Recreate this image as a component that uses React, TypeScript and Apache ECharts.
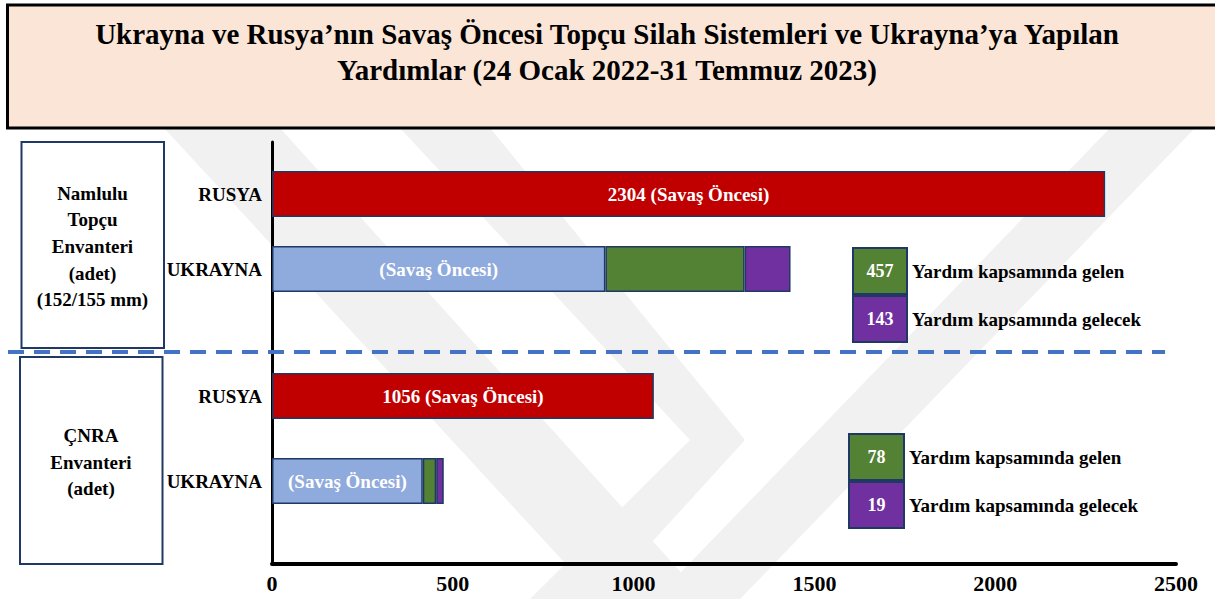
import React, { useEffect, useRef } from 'react';
import * as echarts from 'echarts';

const categories = ['RUSYA', 'UKRAYNA'];
const artilleryPreWar = [2304, 922];
const artilleryDelivered = [null, 385];
const artilleryPledged = [null, 127];
const mlrsPreWar = [1056, 417];
const mlrsDelivered = [null, 37];
const mlrsPledged = [null, 21];
const artilleryAidLabels = ['457', '143'];
const mlrsAidLabels = ['78', '19'];
const aidLegendNames = ['Yardım kapsamında gelen', 'Yardım kapsamında gelecek'];
const preWarLabel = '(Savaş Öncesi)';
const xMin = 0;
const xMax = 2500;
const xInterval = 500;
const titleLines = [
  'Ukrayna ve Rusya’nın Savaş Öncesi Topçu Silah Sistemleri ve Ukrayna’ya Yapılan',
  'Yardımlar (24 Ocak 2022-31 Temmuz 2023)',
];
const groupLabels = [
  ['Namlulu', 'Topçu', 'Envanteri', '(adet)', '(152/155 mm)'],
  ['ÇNRA', 'Envanteri', '(adet)'],
];

const FONT = "'Liberation Serif', 'Times New Roman', serif";
const RED = '#c00000';
const BLUE = '#8faadc';
const GREEN = '#548235';
const PURPLE = '#7030a0';
const NAVY = '#1f3864';
const WM = '#f2f1f2';

function buildSeries(idx: number, pre: number[], del: (number | null)[], pled: (number | null)[]) {
  const common = {
    type: 'bar',
    xAxisIndex: idx,
    yAxisIndex: idx,
    stack: 'g' + idx,
    barWidth: 46,
    z: 5,
  };
  return [
    {
      ...common,
      name: 'Savaş Öncesi',
      data: pre.map((v, i) => ({ value: v, itemStyle: { color: i === 0 ? RED : BLUE } })),
      itemStyle: { borderColor: NAVY, borderWidth: 1.5 },
      label: {
        show: true,
        position: 'inside',
        color: '#ffffff',
        fontFamily: FONT,
        fontWeight: 'bold',
        fontSize: 19,
        formatter: (p: any) => (p.dataIndex === 0 ? `${p.value} ${preWarLabel}` : preWarLabel),
      },
    },
    {
      ...common,
      name: aidLegendNames[0],
      data: del,
      itemStyle: { color: GREEN, borderColor: NAVY, borderWidth: 1.5 },
    },
    {
      ...common,
      name: aidLegendNames[1],
      data: pled,
      itemStyle: { color: PURPLE, borderColor: NAVY, borderWidth: 1.5 },
    },
  ];
}

function legendBlock(x: number, y: number, w: number, h: number, labels: string[]) {
  const els: any[] = [];
  const colors = [GREEN, PURPLE];
  labels.forEach((lab, i) => {
    const top = y + i * (h + 2);
    els.push({
      type: 'rect',
      z: 50,
      shape: { x, y: top, width: w, height: h },
      style: { fill: colors[i], stroke: NAVY, lineWidth: 2 },
    });
    els.push({
      type: 'text',
      z: 51,
      x: x + w / 2,
      y: top + h / 2,
      style: {
        text: lab,
        fill: '#ffffff',
        fontFamily: FONT,
        fontWeight: 'bold',
        fontSize: 18,
        textAlign: 'center',
        align: 'center',
        textVerticalAlign: 'middle',
        verticalAlign: 'middle',
      },
    });
    els.push({
      type: 'text',
      z: 51,
      x: x + w + 5,
      y: top + h / 2,
      style: {
        text: aidLegendNames[i],
        fill: '#000000',
        fontFamily: FONT,
        fontWeight: 'bold',
        fontSize: 19,
        textAlign: 'left',
        align: 'left',
        textVerticalAlign: 'middle',
        verticalAlign: 'middle',
      },
    });
  });
  return els;
}

export default function App() {
  const ref = useRef<HTMLDivElement>(null);

  useEffect(() => {
    if (!ref.current) return;
    const chart = echarts.init(ref.current, null, { renderer: 'svg' });

    const catAxis = (idx: number) => ({
      type: 'category',
      gridIndex: idx,
      data: categories,
      inverse: true,
      axisLine: { show: false },
      axisTick: { show: false },
      axisLabel: {
        margin: 10,
        color: '#000000',
        fontFamily: FONT,
        fontWeight: 'bold',
        fontSize: 19,
      },
    });

    const hiddenX = (idx: number) => ({
      type: 'value',
      gridIndex: idx,
      min: xMin,
      max: xMax,
      interval: xInterval,
      show: false,
    });

    const graphic: any[] = [
      // watermark
      { type: 'polygon', z: -10, shape: { points: [[164, 128], [280, 128], [705, 599], [598, 599]] }, style: { fill: WM } },
      { type: 'polygon', z: -10, shape: { points: [[1110, 128], [1195, 128], [740, 599], [655, 599]] }, style: { fill: WM } },
      { type: 'polygon', z: -10, shape: { points: [[400, 128], [490, 128], [745, 440], [600, 599], [530, 599], [690, 440]] }, style: { fill: WM } },
      // title box
      {
        type: 'rect',
        z: 40,
        shape: { x: 7.5, y: 5, width: 1215, height: 123 },
        style: { fill: '#fbe5d6', stroke: '#000000', lineWidth: 3 },
      },
      {
        type: 'text',
        z: 41,
        x: 607,
        y: 52,
        style: {
          text: titleLines.join('\n'),
          fill: '#000000',
          fontFamily: FONT,
          fontWeight: 'bold',
          fontSize: 29,
          lineHeight: 36,
          textAlign: 'center',
          align: 'center',
          textVerticalAlign: 'middle',
          verticalAlign: 'middle',
        },
      },
      // left group boxes
      {
        type: 'rect',
        z: 40,
        shape: { x: 21.5, y: 142, width: 142.5, height: 206 },
        style: { fill: '#ffffff', stroke: NAVY, lineWidth: 2 },
      },
      {
        type: 'text',
        z: 41,
        x: 92.5,
        y: 246.5,
        style: {
          text: groupLabels[0].join('\n'),
          fill: '#000000',
          fontFamily: FONT,
          fontWeight: 'bold',
          fontSize: 19,
          lineHeight: 26.7,
          textAlign: 'center',
          align: 'center',
          textVerticalAlign: 'middle',
          verticalAlign: 'middle',
        },
      },
      {
        type: 'rect',
        z: 40,
        shape: { x: 20, y: 357, width: 142.5, height: 207 },
        style: { fill: '#ffffff', stroke: NAVY, lineWidth: 2 },
      },
      {
        type: 'text',
        z: 41,
        x: 91,
        y: 462,
        style: {
          text: groupLabels[1].join('\n'),
          fill: '#000000',
          fontFamily: FONT,
          fontWeight: 'bold',
          fontSize: 19,
          lineHeight: 26.7,
          textAlign: 'center',
          align: 'center',
          textVerticalAlign: 'middle',
          verticalAlign: 'middle',
        },
      },
      // dashed separator
      {
        type: 'line',
        z: 30,
        shape: { x1: 8, y1: 352, x2: 1165, y2: 352 },
        style: { stroke: '#4472c4', lineWidth: 4, lineDash: [16, 10] },
      },
      ...legendBlock(853, 248, 54, 46, artilleryAidLabels),
      ...legendBlock(849, 434, 55, 46, mlrsAidLabels),
    ];

    chart.setOption({
      animation: false,
      backgroundColor: '#ffffff',
      grid: [
        { left: 272, right: 39, top: 156.5, height: 150 },
        { left: 272, right: 39, top: 353.5, height: 170 },
        { left: 272, right: 39, top: 142, bottom: 35 },
      ],
      xAxis: [
        hiddenX(0),
        hiddenX(1),
        {
          type: 'value',
          gridIndex: 2,
          min: xMin,
          max: xMax,
          interval: xInterval,
          splitLine: { show: false },
          axisTick: { show: false },
          axisLine: { show: true, lineStyle: { color: '#000000', width: 4 } },
          axisLabel: {
            margin: 8,
            color: '#000000',
            fontFamily: FONT,
            fontWeight: 'bold',
            fontSize: 22,
            formatter: (v: number) => String(v),
          },
        },
      ],
      yAxis: [
        catAxis(0),
        catAxis(1),
        {
          type: 'category',
          gridIndex: 2,
          data: [''],
          axisTick: { show: false },
          axisLabel: { show: false },
          axisLine: { show: true, lineStyle: { color: '#000000', width: 3 } },
        },
      ],
      series: [
        ...buildSeries(0, artilleryPreWar, artilleryDelivered, artilleryPledged),
        ...buildSeries(1, mlrsPreWar, mlrsDelivered, mlrsPledged),
      ],
      graphic: { elements: graphic },
    });

    return () => chart.dispose();
  }, []);

  return (
    <div
      ref={ref}
      style={{ position: 'fixed', left: 0, top: 0, width: 1215, height: 599, background: '#ffffff' }}
    />
  );
}
